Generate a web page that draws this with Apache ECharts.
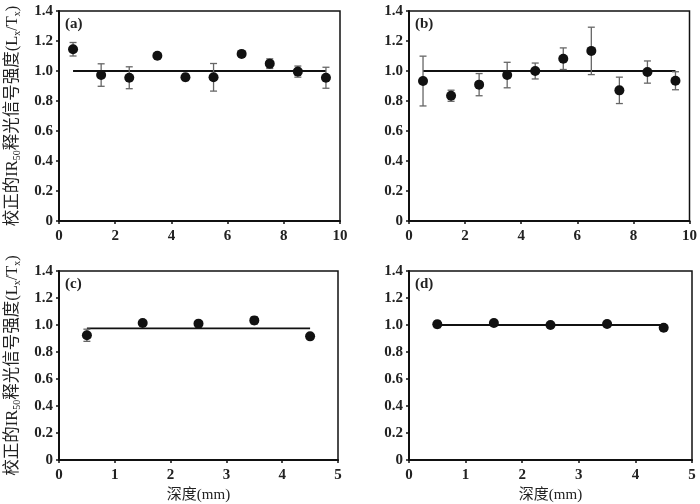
<!DOCTYPE html>
<html>
<head>
<meta charset="utf-8">
<script src="https://cdn.jsdelivr.net/npm/echarts@6/dist/echarts.min.js"></script>
<style>
html,body{margin:0;padding:0;background:#fff;}
#chart{width:700px;height:504px;}
</style>
</head>
<body>
<div id="chart"></div>
<script>
// ---- data ----
const depthTop = [0.5, 1.5, 2.5, 3.5, 4.5, 5.5, 6.5, 7.5, 8.5, 9.5];
const valuesA = [1.145, 0.973, 0.955, 1.102, 0.958, 0.958, 1.114, 1.049, 0.996, 0.955];
const errA    = [0.045, 0.075, 0.073, 0.015, 0.022, 0.092, 0.010, 0.032, 0.037, 0.070];
const valuesB = [0.933, 0.835, 0.909, 0.973, 1.000, 1.082, 1.134, 0.871, 0.993, 0.935];
const errB    = [0.166, 0.037, 0.074, 0.085, 0.053, 0.072, 0.158, 0.088, 0.074, 0.060];
const depthBottom = [0.5, 1.5, 2.5, 3.5, 4.5];
const valuesC = [0.924, 1.015, 1.010, 1.034, 0.916];
const errC    = [0.045, 0.015, 0.010, 0.027, 0.005];
const valuesD = [1.005, 1.015, 1.000, 1.007, 0.980];
const errD    = [0.025, 0.008, 0.008, 0.010, 0.008];
const refA = 1.0, refB = 1.0, refC = 0.975, refD = 1.0;
const panelLabels = ['(a)', '(b)', '(c)', '(d)'];
const yTicks = { min: 0, max: 1.4, interval: 0.2 };
const xTop = { min: 0, max: 10, interval: 2 };
const xBottom = { min: 0, max: 5, interval: 1 };
const xName = '深度(mm)';

// ---- layout ----
const FONT = '"Liberation Serif", "Noto Sans CJK SC", serif';
const grids = [
  { left: 59, top: 11, width: 281, height: 210 },
  { left: 409, top: 11, width: 281, height: 210 },
  { left: 59, top: 271, width: 279, height: 190 },
  { left: 409, top: 271, width: 283, height: 190 }
];

const panels = [
  { x: depthTop, y: valuesA, e: errA, ref: refA, xr: xTop },
  { x: depthTop, y: valuesB, e: errB, ref: refB, xr: xTop },
  { x: depthBottom, y: valuesC, e: errC, ref: refC, xr: xBottom },
  { x: depthBottom, y: valuesD, e: errD, ref: refD, xr: xBottom }
];

const yName = '{m|校正的IR}{s|50}{m|释光信号强度(L}{s|x}{m|/T}{s|x}{m|)}';

const option = {
  animation: false,
  backgroundColor: '#fff',
  grid: grids.map(g => Object.assign({ show: true, borderColor: '#111', borderWidth: 1.5, backgroundColor: 'transparent' }, g)),
  xAxis: panels.map((p, i) => ({
    type: 'value', gridIndex: i, min: p.xr.min, max: p.xr.max, interval: p.xr.interval,
    name: i >= 2 ? xName : '', nameLocation: 'middle', nameGap: 28,
    nameTextStyle: { fontFamily: FONT, fontSize: 15, color: '#222' },
    axisLine: { show: true, onZero: false, lineStyle: { color: '#111', width: 2 } },
    axisTick: { show: true, inside: false, length: 3, lineStyle: { color: '#111', width: 1.5 } },
    axisLabel: { fontFamily: FONT, fontSize: 15, fontWeight: 'bold', color: '#222', margin: 8 },
    splitLine: { show: false }
  })),
  yAxis: panels.map((p, i) => ({
    type: 'value', gridIndex: i, min: yTicks.min, max: yTicks.max, interval: yTicks.interval,
    name: (i % 2 === 0) ? yName : '', nameLocation: 'middle', nameGap: 37, nameRotate: 90,
    nameTextStyle: {
      fontFamily: FONT, color: '#222',
      rich: {
        m: { fontFamily: FONT, fontSize: 16.5, color: '#222', lineHeight: 19, verticalAlign: 'middle' },
        s: { fontFamily: FONT, fontSize: 10, color: '#222', lineHeight: 19, verticalAlign: 'bottom' }
      }
    },
    axisLine: { show: true, onZero: false, lineStyle: { color: '#111', width: 2 } },
    axisTick: { show: true, inside: false, length: 3, lineStyle: { color: '#111', width: 1.5 } },
    axisLabel: {
      fontFamily: FONT, fontSize: 15, fontWeight: 'bold', color: '#222', margin: 6,
      formatter: v => (v === 0 ? '0' : v.toFixed(1))
    },
    splitLine: { show: false }
  })),
  graphic: grids.map((g, i) => ({
    type: 'text', left: g.left + 6, top: g.top + 6,
    style: { text: panelLabels[i], font: 'bold 15px ' + FONT, fill: '#222' }
  })),
  series: []
};

panels.forEach((p, i) => {
  // reference line
  option.series.push({
    type: 'line', xAxisIndex: i, yAxisIndex: i, symbol: 'none',
    data: [[p.x[0], p.ref], [p.x[p.x.length - 1], p.ref]],
    lineStyle: { color: '#111', width: 1.8 }, z: 2
  });
  // error bars
  option.series.push({
    type: 'custom', xAxisIndex: i, yAxisIndex: i, z: 3,
    data: p.x.map((x, k) => [x, p.y[k] - p.e[k], p.y[k] + p.e[k]]),
    renderItem: function (params, api) {
      const lo = api.coord([api.value(0), api.value(1)]);
      const hi = api.coord([api.value(0), api.value(2)]);
      const w = 3.5;
      const st = { stroke: '#666', lineWidth: 1.3 };
      return {
        type: 'group',
        children: [
          { type: 'line', shape: { x1: lo[0], y1: lo[1], x2: hi[0], y2: hi[1] }, style: st },
          { type: 'line', shape: { x1: lo[0] - w, y1: lo[1], x2: lo[0] + w, y2: lo[1] }, style: st },
          { type: 'line', shape: { x1: hi[0] - w, y1: hi[1], x2: hi[0] + w, y2: hi[1] }, style: st }
        ]
      };
    }
  });
  // points
  option.series.push({
    type: 'scatter', xAxisIndex: i, yAxisIndex: i, z: 4,
    symbol: 'circle', symbolSize: 10,
    itemStyle: { color: '#111', opacity: 1 },
    data: p.x.map((x, k) => [x, p.y[k]])
  });
});

const chart = echarts.init(document.getElementById('chart'), null, { renderer: 'canvas' });
chart.setOption(option);
</script>
</body>
</html>
